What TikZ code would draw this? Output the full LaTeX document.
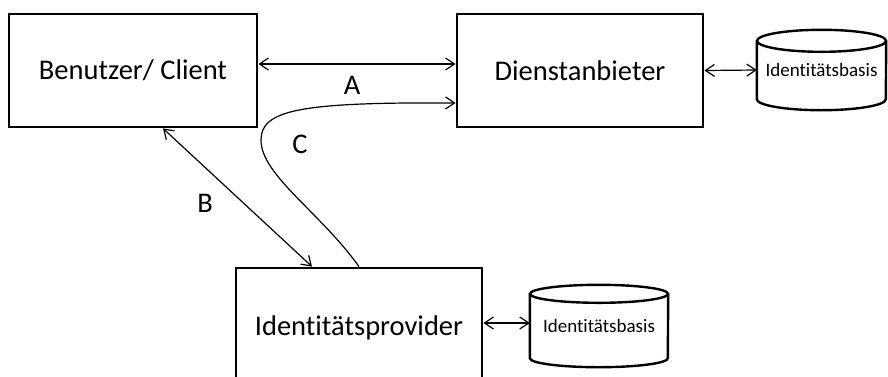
\documentclass[tikz,border=0pt]{standalone}
\usepackage{fontspec}
\setmainfont{Carlito}[Ligatures=NoCommon]
\usetikzlibrary{arrows.meta}
\begin{document}
\begin{tikzpicture}[x=1pt,y=-1pt,
  box/.style={draw,line width=2.8pt,minimum width=#1,inner sep=0pt,font=\fontsize{28.5}{34}\selectfont},
  lbl/.style={font=\fontsize{28.5}{34}\selectfont,inner sep=0pt},
  dbtext/.style={inner sep=0pt,font=\fontsize{19}{23}\selectfont},
  cyl/.style={line width=2.4pt},
  arr/.style={line width=1.2pt,{Straight Barb[length=9pt,width=12pt]}-{Straight Barb[length=9pt,width=12pt]}},
  arrone/.style={line width=1.2pt,-{Straight Barb[length=9pt,width=12pt]}}]
\clip (0,0) rectangle (888,376);
\fill[white] (0,0) rectangle (888,376);
% boxes
\node[box=248pt,minimum height=113pt] (client) at (133,70.5) {Benutzer/ Client};
\node[box=246pt,minimum height=113pt] (dienst) at (580,70.5) {Dienstanbieter};
\node[box=246pt,minimum height=120pt] (idp) at (359,328) {Identitätsprovider};
% databases
\node[dbtext,minimum width=129pt,minimum height=58pt] (db1) at (821.5,70) {\raisebox{-5pt}{Identitätsbasis}};
\draw[cyl] (db1.north west) -- (db1.south west) arc[start angle=180,end angle=360,x radius=64.5pt,y radius=11pt] -- (db1.north east);
\draw[cyl] (db1.north) ellipse[x radius=64.5pt,y radius=11pt];
\node[dbtext,minimum width=138pt,minimum height=64pt] (db2) at (599,326) {\raisebox{-5pt}{Identitätsbasis}};
\draw[cyl] (db2.north west) -- (db2.south west) arc[start angle=180,end angle=360,x radius=69pt,y radius=9pt] -- (db2.north east);
\draw[cyl] (db2.north) ellipse[x radius=69pt,y radius=9pt];
% connectors
\draw[arr] ([yshift=6.5pt]client.east) -- ([yshift=6.5pt]dienst.west);
\draw[arr] (dienst.east) -- (db1.west);
\draw[arr] ([yshift=5pt]idp.east) -- ([yshift=3pt]db2.west);
\draw[arr] ([xshift=30pt]client.south) -- ([xshift=-47pt]idp.north);
\draw[arrone] (idp.north) .. controls (320,212) and (261,175) .. (261,140)
  .. controls (261,110) and (300,102) .. ([yshift=-32.5pt]dienst.west);
% labels
\node[lbl] (la) at (352,85) {A};
\node[lbl] (lb) at (205,203) {B};
\node[lbl] (lc) at (300,144) {C};
\end{tikzpicture}
\end{document}
